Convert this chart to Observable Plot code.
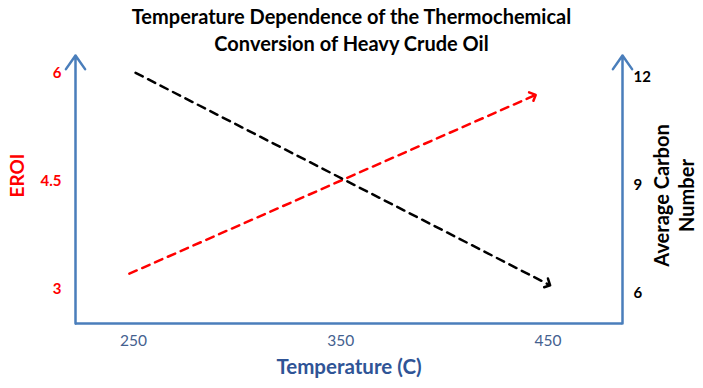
<!DOCTYPE html>
<html><head><meta charset="utf-8">
<script src="https://cdn.jsdelivr.net/npm/d3@7"></script>
<script src="https://cdn.jsdelivr.net/npm/@observablehq/plot@0.6"></script>
<style>
body{margin:0;background:#fff;}
#wrap{position:relative;width:703px;height:388px;}
#title{position:absolute;left:0;top:3px;width:703px;text-align:center;font-family:Lato,sans-serif;font-weight:bold;font-size:20px;line-height:27px;color:#000;}
#wrap svg{position:absolute;left:0;top:0;}
</style></head><body>
<div id="wrap"><div id="title"></div></div>
<script>
const titleLines = ["Temperature Dependence of the Thermochemical", "Conversion of Heavy Crude Oil"];
const xLabel = "Temperature (C)";
const leftLabel = "EROI";
const rightLabel = "Average Carbon\nNumber";
const temperatureTicks = [250, 350, 450];
const eroiTicks = [3, 4.5, 6];
const carbonTicks = [6, 9, 12];
const eroiTemp = [248, 443];
const eroiValues = [3.22, 5.68];
const carbonTemp = [251, 450];
const carbonValues = [12.0, 6.15];
const xDomain = [222, 486];
const yDomain = [2.53, 6.24];

const carbonToEroi = c => c / 2;
const redData = eroiTemp.map((t, i) => ({t, v: eroiValues[i]}));
const blackData = carbonTemp.map((t, i) => ({t, v: carbonToEroi(carbonValues[i])}));
const axisColor = "#4a7ebb";

document.getElementById("title").innerHTML = titleLines.join("<br>");

const chart = Plot.plot({
  width: 703, height: 388,
  marginLeft: 75, marginRight: 81, marginTop: 55, marginBottom: 65,
  x: {domain: xDomain},
  y: {domain: yDomain},
  style: {fontFamily: "Lato, sans-serif", background: "transparent"},
  marks: [
    Plot.ruleY([yDomain[0]], {x1: () => xDomain[0], x2: () => xDomain[1], stroke: axisColor, strokeWidth: 2.5}),
    Plot.arrow(xDomain, {x1: d => d, x2: d => d, y1: () => yDomain[0], y2: () => yDomain[1], stroke: axisColor, strokeWidth: 2.5, headLength: 10, headAngle: 70}),
    Plot.line(redData, {x: "t", y: "v", stroke: "#ff0000", strokeWidth: 2.5, strokeDasharray: "8,6", markerEnd: "arrow"}),
    Plot.line(blackData, {x: "t", y: "v", stroke: "#000000", strokeWidth: 2.5, strokeDasharray: "8,6", markerEnd: "arrow"}),
    Plot.axisY(eroiTicks, {anchor: "left", tickSize: 0, tickPadding: 14, tickFormat: d => String(d), fill: "#ff0000", fontWeight: "bold", fontSize: 15, label: null}),
    Plot.axisY(carbonTicks.map(carbonToEroi), {anchor: "right", tickSize: 0, tickPadding: 11, dy: 4, tickFormat: d => String(d * 2), fill: "#000000", fontWeight: "bold", fontSize: 15, label: null}),
    Plot.axisX(temperatureTicks, {anchor: "bottom", tickSize: 0, tickPadding: 11, fill: "#44618f", fontSize: 15.5, label: null}),
    Plot.text([leftLabel], {frameAnchor: "left", textAnchor: "middle", dx: -58, dy: -14, rotate: -90, fill: "#ff0000", fontWeight: "bold", fontSize: 19}),
    Plot.text([rightLabel], {frameAnchor: "right", textAnchor: "middle", dx: 51, dy: 6, rotate: -90, fill: "#000000", fontWeight: "bold", fontSize: 20, lineHeight: 1.25}),
    Plot.text([xLabel], {frameAnchor: "bottom", textAnchor: "middle", dy: 50, fill: "#2f5496", fontWeight: "bold", fontSize: 20.5})
  ]
});
document.getElementById("wrap").appendChild(chart);
</script>
</body></html>
